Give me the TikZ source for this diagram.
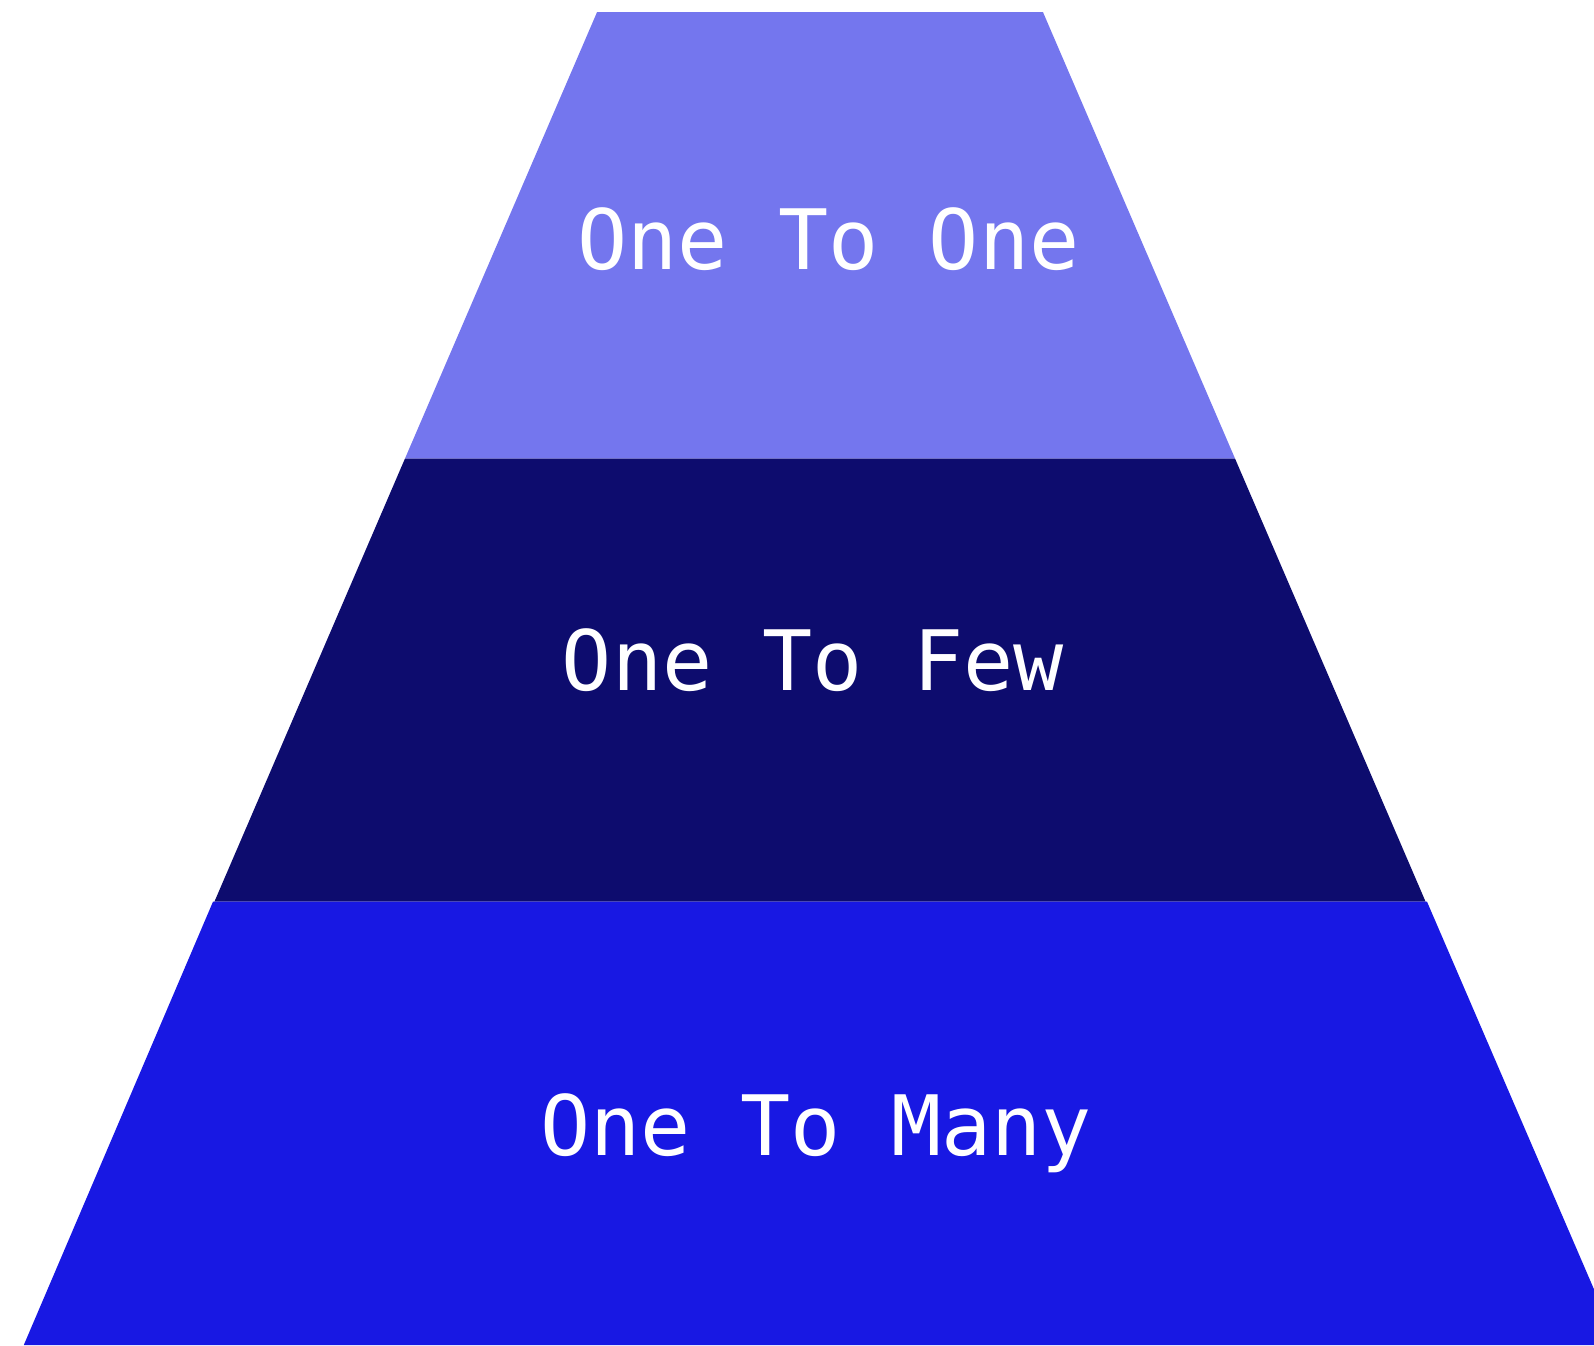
\documentclass[tikz,border=0pt]{standalone}
\usepackage{fontspec}
\setmonofont{DejaVu Sans Mono}
\usepackage{xcolor}
\usepackage{tikz}
\definecolor{cTop}{HTML}{7476EE}
\definecolor{cMid}{HTML}{0D0C6E}
\definecolor{cBot}{HTML}{1818E3}
\tikzset{
  band/.style   = {draw=none},
  toplay/.style = {band, fill=cTop},
  midlay/.style = {band, fill=cMid},
  botlay/.style = {band, fill=cBot},
  lvl/.style    = {text=white, font=\ttfamily\fontsize{23.7}{28}\selectfont,
                   inner sep=0pt, anchor=base},
}
\begin{document}
\begin{tikzpicture}[x=0.01cm, y=-0.01cm]
  \useasboundingbox (0,0) rectangle (1594,1345);
  \clip (0,0) rectangle (1594,1345);

  % layers, top to bottom
  \fill[toplay] (597,12.2) -- (1043,12.2) -- (1235,458.5) -- (405,458.5) -- cycle;
  \fill[midlay] (405,458.5) -- (1235,458.5) -- (1425.6,901.7) -- (214.4,901.7) -- cycle;
  \fill[botlay] (213,901.7) -- (1427,901.7) -- (1618,1345) -- (23.8,1345) -- cycle;

  % labels
  \node[lvl] (one)  at (828.5,269.4)  {One To One};
  \node[lvl] (few)  at (812.8,690.3)  {One To Few};
  \node[lvl] (many) at (816,1155.8)   {One To Many};
\end{tikzpicture}
\end{document}
